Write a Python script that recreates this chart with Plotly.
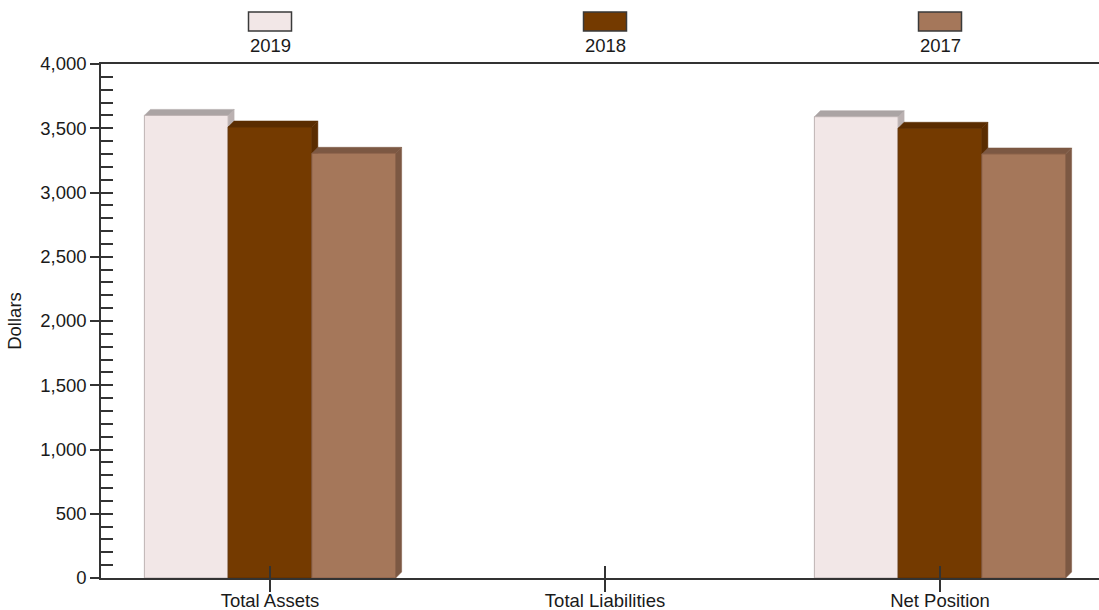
import plotly.graph_objects as go

# ---- data -------------------------------------------------------------
categories = ["Total Assets", "Total Liabilities", "Net Position"]
years = ["2019", "2018", "2017"]
values_2019 = [3600, 0, 3590]
values_2018 = [3510, 0, 3500]
values_2017 = [3305, 0, 3300]
y_ticks = [0, 500, 1000, 1500, 2000, 2500, 3000, 3500, 4000]

# ---- styling ------------------------------------------------------------
series = [
    # (label, values, front, front outline, top face, side face)
    (years[0], values_2019, "#F2E7E7", "#BDB2B2", "#ABA4A4", "#BBB1B1"),
    (years[1], values_2018, "#743A00", "#5E2F00", "#5A2C00", "#5A2C00"),
    (years[2], values_2017, "#A5775A", "#8A6048", "#7C5843", "#7C5843"),
]
FONT = "Liberation Sans, Arial, sans-serif"
FS = 18.5
TXT = "#1a1a1a"
AXIS = "#333333"

W, H = 1099, 610
M_L, M_R, M_T, M_B = 101, 0, 64, 32
plot_w = W - M_L - M_R
plot_h = H - M_T - M_B
x_range = [-0.5045, 2.4746]
y_range = [0, 4000]

# pixel → data conversion for the extruded (3D) faces
px_per_x = plot_w / (x_range[1] - x_range[0])
px_per_y = plot_h / (y_range[1] - y_range[0])
DEPTH = 6
dx = DEPTH / px_per_x
dy = DEPTH / px_per_y


def paper_y(py):
    """Convert a pixel row of the page into a paper y coordinate."""
    return (M_T + plot_h - py) / plot_h


bar_w = 0.25
offsets = [-0.375, -0.125, 0.125]

fig = go.Figure()


def poly(xs, ys, fill, line, lw=1):
    fig.add_trace(go.Scatter(
        x=xs + [xs[0]], y=ys + [ys[0]], mode="lines", fill="toself",
        fillcolor=fill, line=dict(color=line, width=lw),
        hoverinfo="skip", showlegend=False,
    ))


for (label, vals, front, outline, top, side), off in zip(series, offsets):
    for ci, v in enumerate(vals):
        if v <= 0:
            continue
        x0 = ci + off
        x1 = x0 + bar_w
        # right side face
        poly([x1, x1 + dx, x1 + dx, x1], [v, v + dy, dy, 0], side, side, 0.5)
        # top face
        poly([x0, x0 + dx, x1 + dx, x1], [v, v + dy, v + dy, v], top, top, 0.5)
        # front face
        poly([x0, x0, x1, x1], [0, v, v, 0], front, outline, 1)

# helper trace for the overlaid tick axes
fig.add_trace(go.Scatter(x=[None], y=[None], xaxis="x2", yaxis="y2",
                         showlegend=False, hoverinfo="skip"))

# ---- legend (boxes above the plot) ---------------------------------------
box_half_w = 21.5 / px_per_x
for i, (label, vals, front, outline, top, side) in enumerate(series):
    fig.add_shape(type="rect", xref="x", yref="paper",
                  x0=i - box_half_w, x1=i + box_half_w,
                  y0=paper_y(31), y1=paper_y(12),
                  fillcolor=front, line=dict(color="#3a3a3a", width=1.5), layer="above")
    fig.add_annotation(x=i, xref="x", y=paper_y(46), yref="paper",
                       text=label, showarrow=False, yanchor="middle",
                       font=dict(family=FONT, size=FS, color=TXT))

fig.update_layout(
    width=W, height=H,
    margin=dict(l=M_L, r=M_R, t=M_T, b=M_B, pad=0, autoexpand=False),
    paper_bgcolor="white", plot_bgcolor="white",
    showlegend=False,
    font=dict(family=FONT, size=FS, color=TXT),
    xaxis=dict(
        range=x_range, tickvals=[0, 1, 2], ticktext=categories,
        ticks="outside", ticklen=12, tickwidth=1.5, tickcolor=AXIS,
        ticklabelstandoff=-7,
        showline=True, linecolor=AXIS, linewidth=1.5, mirror=True,
        showgrid=False, zeroline=False, automargin=False,
        tickfont=dict(family=FONT, size=FS, color=TXT),
    ),
    yaxis=dict(
        range=y_range, tickvals=y_ticks, tickformat=",d",
        ticks="outside", ticklen=9, tickwidth=1.5, tickcolor=AXIS,
        showline=True, linecolor=AXIS, linewidth=1.5,
        showgrid=False, zeroline=False, automargin=False,
        tickfont=dict(family=FONT, size=FS, color=TXT),
        title=dict(text="Dollars", font=dict(family=FONT, size=FS, color=TXT), standoff=14),
    ),
    xaxis2=dict(
        overlaying="x", anchor="y", side="bottom", range=x_range,
        tickvals=[0, 1, 2], showticklabels=False,
        ticks="inside", ticklen=12, tickwidth=1.5, tickcolor=AXIS,
        showline=False, showgrid=False, zeroline=False, automargin=False,
    ),
    yaxis2=dict(
        overlaying="y", anchor="x", side="left", range=y_range,
        dtick=100, tick0=0, showticklabels=False,
        ticks="inside", ticklen=12, tickwidth=1.5, tickcolor=AXIS,
        showline=False, showgrid=False, zeroline=False, automargin=False,
    ),
)

fig.write_html("out.html")
